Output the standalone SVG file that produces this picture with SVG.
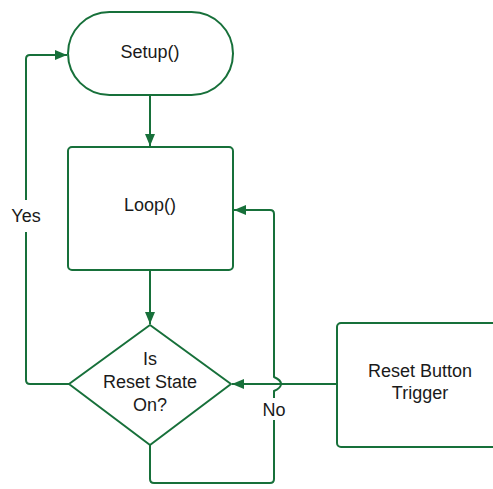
<svg xmlns="http://www.w3.org/2000/svg" width="493" height="489" viewBox="0 0 493 489">
<style>
.s{fill:#fff;stroke:#17703a;stroke-width:2}
.c{fill:none;stroke:#17703a;stroke-width:2;stroke-linejoin:round}
text{font-family:"Liberation Sans",Arial,sans-serif;font-size:18px;fill:#1a1a1a;text-anchor:middle}
</style>
<defs>
<marker id="a" viewBox="0 0 12 10" refX="12" refY="5" markerWidth="12" markerHeight="10" markerUnits="userSpaceOnUse" orient="auto">
<path d="M0,0L12,5L0,10z" fill="#17703a"/>
</marker>
</defs>
<rect width="493" height="489" fill="#fff"/>
<g id="connectors">
<path class="c" d="M150,95V146" marker-end="url(#a)"/>
<path class="c" d="M150,270V324" marker-end="url(#a)"/>
<path class="c" d="M69,384H30Q26,384 26,380V232M26,200V59Q26,55 30,55H67" marker-end="url(#a)"/>
<path class="c" d="M150,445V479Q150,483 154,483H270Q274,483 274,479V420M274,398V391Q281,388 281,384Q281,380 274,377V214Q274,210 270,210H234" marker-end="url(#a)"/>
<path class="c" d="M337,384H232" marker-end="url(#a)"/>
<text x="26" y="222">Yes</text>
<text x="274" y="416">No</text>
</g>
<g id="setup">
<rect class="s" x="68" y="12" width="165" height="83" rx="41.5"/>
<text x="150" y="58">Setup()</text>
</g>
<g id="loop">
<rect class="s" x="68" y="147" width="165" height="123" rx="4"/>
<text x="150" y="211">Loop()</text>
</g>
<g id="decision">
<path class="s" d="M150,325L231,384L150,445L69,384Z" stroke-linejoin="round"/>
<text x="150" y="365">Is</text>
<text x="150" y="388">Reset State</text>
<text x="150" y="411">On?</text>
</g>
<g id="reset">
<rect class="s" x="337" y="323" width="170" height="124" rx="4"/>
<text x="420" y="377">Reset Button</text>
<text x="420" y="399">Trigger</text>
</g>
</svg>
